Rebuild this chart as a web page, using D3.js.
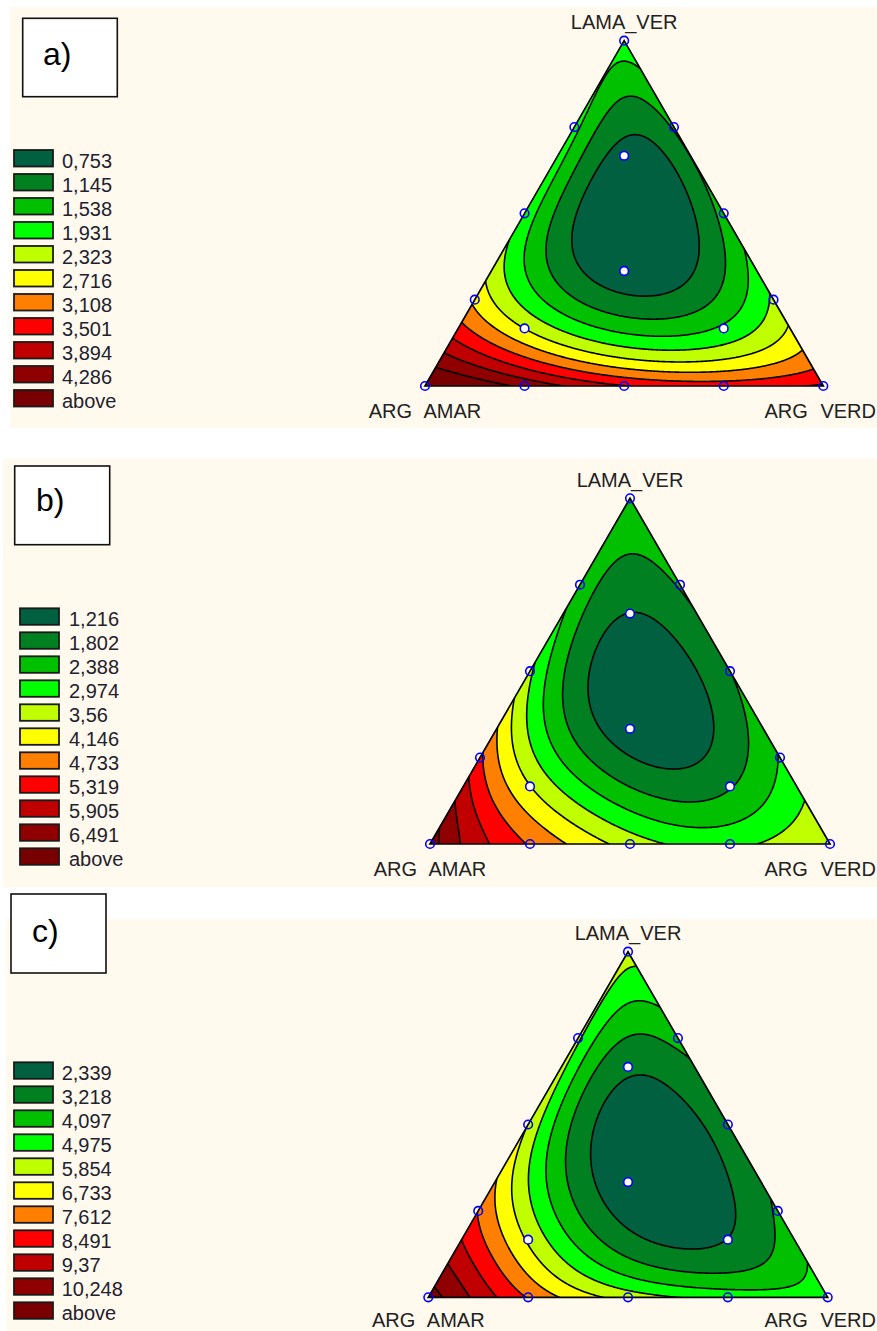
<!DOCTYPE html>
<html><head><meta charset="utf-8">
<script src="https://cdn.jsdelivr.net/npm/d3@7"></script>
<style>body{margin:0;background:#fff} svg{display:block}</style>
</head><body>
<svg id="chart" width="877" height="1331"></svg>
<script>
// ---------------- data ----------------
const bandColors = ['#00603f','#008020','#00c000','#00ff00','#c0ff00','#ffff00','#ff8000','#ff0000','#c00000','#900000','#780000'];
const levelsA = [0.753,1.145,1.538,1.931,2.323,2.716,3.108,3.501,3.894,4.286];
const levelsB = [1.216,1.802,2.388,2.974,3.56,4.146,4.733,5.319,5.905,6.491];
const levelsC = [2.339,3.218,4.097,4.975,5.854,6.733,7.612,8.491,9.37,10.248];
const labelsA = ['0,753','1,145','1,538','1,931','2,323','2,716','3,108','3,501','3,894','4,286','above'];
const labelsB = ['1,216','1,802','2,388','2,974','3,56','4,146','4,733','5,319','5,905','6,491','above'];
const labelsC = ['2,339','3,218','4,097','4,975','5,854','6,733','7,612','8,491','9,37','10,248','above'];
const componentNames = ['ARG AMAR','ARG VERD','LAMA_VER'];
// design mixtures [ARG AMAR, ARG VERD, LAMA_VER]
const designPoints = [[1,0,0],[0,1,0],[0,0,1],[.75,.25,0],[.5,.5,0],[.25,.75,0],[.75,0,.25],[.5,0,.5],[.25,0,.75],
  [0,.75,.25],[0,.5,.5],[0,.25,.75],[2/3,1/6,1/6],[1/6,2/3,1/6],[1/6,1/6,2/3],[1/3,1/3,1/3]];
const interiorFlags = [0,0,0,0,0,0,0,0,0,0,0,0,1,1,1,1];
// response read on a 1/8 simplex lattice: row k => LAMA_VER = k/8, entry j => ARG VERD = j/8
const responseA = [
  [4.75,4.5,4.25,3.85,3.45,3.35,3.35,3.4,3.55],
  [3.7,3.0,2.3,1.95,1.8,1.8,2.0,2.6],
  [2.5,1.85,1.25,0.75,0.85,1.35,2.0],
  [2.1,1.1,0.5,0.4,0.65,1.6],
  [1.85,0.72,0.4,0.55,1.3],
  [1.8,0.7,0.5,1.2],
  [1.65,0.85,1.15],
  [1.6,1.45],
  [1.75]
];
const responseB = [
  [6.8,5.4,4.75,3.9,3.2,2.97,2.85,3.1,3.45],
  [5.9,4.5,3.5,2.6,1.85,1.85,2.25,3.0],
  [4.73,3.0,1.7,1.1,1.0,1.5,2.4],
  [4.1,2.1,1.1,0.9,1.15,2.0],
  [3.0,1.45,0.9,0.95,1.8],
  [2.5,1.25,0.95,1.8],
  [2.25,1.5,1.85],
  [2.15,2.05],
  [2.2]
];
const responseC = [
  [10.7,9.0,7.6,6.4,5.4,5.0,4.6,4.55,4.6],
  [8.9,7.2,5.0,3.6,2.8,2.45,2.9,4.05],
  [7.6,5.5,3.0,2.0,1.8,2.1,3.3],
  [6.5,3.7,2.0,1.7,1.9,2.9],
  [5.75,2.8,1.9,1.8,2.9],
  [5.45,2.7,2.2,3.0],
  [5.3,3.3,3.4],
  [5.0,4.4],
  [5.3]
];

// ---------------- layout ----------------
const panels = [
  {tag:'a)', bg:[10,7,867,421], box:[22.7,18.3,94.6,78.4], tagPos:[43,65],
   legend:{x:14,y:150,lx:62}, tri:{x0:425,x1:823.3,yb:386,ya:40.7},
   levels:levelsA, labels:labelsA, rows:responseA},
  {tag:'b)', bg:[3,459,874,428], box:[14.7,466,95,78.7], tagPos:[36,511],
   legend:{x:20,y:608.3,lx:69}, tri:{x0:430,x1:830,yb:844,ya:498.3},
   levels:levelsB, labels:labelsB, rows:responseB},
  {tag:'c)', bg:[6,919,871,412], box:[11,894,95,79], tagPos:[32,942],
   legend:{x:14,y:1062.3,lx:61.7}, tri:{x0:428.3,x1:827.7,yb:1297.3,ya:951.7},
   levels:levelsC, labels:labelsC, rows:responseC}
];

// ---------------- mixture model (Scheffe-form polynomial, least squares) ----------------
const DEG = 5;
function monomials(a,v,l){
  const out=[];
  for(let i=DEG;i>=0;i--) for(let j=DEG-i;j>=0;j--){const k=DEG-i-j; out.push(Math.pow(a,i)*Math.pow(v,j)*Math.pow(l,k));}
  return out;
}
function fitModel(rows){
  const X=[],Y=[];
  rows.forEach((row,k)=>row.forEach((val,j)=>{const L=k/8,V=j/8,A=1-L-V; X.push(monomials(A,V,L)); Y.push(val);}));
  const p=X[0].length;
  const M=[];
  for(let i=0;i<p;i++) M.push(new Array(p+1).fill(0));
  for(let r=0;r<X.length;r++) for(let i=0;i<p;i++){ for(let j=0;j<p;j++) M[i][j]+=X[r][i]*X[r][j]; M[i][p]+=X[r][i]*Y[r]; }
  for(let i=0;i<p;i++) M[i][i]+=1e-7;
  for(let c=0;c<p;c++){
    let piv=c; for(let r=c+1;r<p;r++) if(Math.abs(M[r][c])>Math.abs(M[piv][c])) piv=r;
    [M[c],M[piv]]=[M[piv],M[c]];
    for(let r=0;r<p;r++){ if(r===c) continue; const f=M[r][c]/M[c][c]; for(let k=c;k<=p;k++) M[r][k]-=f*M[c][k]; }
  }
  return M.map((row,i)=>row[p]/row[i]);
}

// ---------------- draw ----------------
const svg = d3.select('#chart');
const defs = svg.append('defs');
const FONT = '"Liberation Sans", Arial, Helvetica, sans-serif';
const W = 877, H = 1331;

panels.forEach((P,pi)=>{
  const g = svg.append('g');
  g.append('rect').attr('x',P.bg[0]).attr('y',P.bg[1]).attr('width',P.bg[2]).attr('height',P.bg[3]).attr('fill','#fff9ee');
  g.append('rect').attr('x',P.box[0]).attr('y',P.box[1]).attr('width',P.box[2]).attr('height',P.box[3])
    .attr('fill','#fff').attr('stroke','#111').attr('stroke-width',1.6);
  g.append('text').attr('x',P.tagPos[0]).attr('y',P.tagPos[1]).text(P.tag)
    .style('font-family',FONT).style('font-size','32px').attr('fill','#000');

  // legend
  P.labels.forEach((lab,i)=>{
    const y = P.legend.y + i*24;
    g.append('rect').attr('x',P.legend.x).attr('y',y).attr('width',39).attr('height',16.5)
      .attr('fill',bandColors[i]).attr('stroke','#1a1a1a').attr('stroke-width',1.8);
    g.append('text').attr('x',P.legend.lx).attr('y',y+17.5).text(lab)
      .style('font-family',FONT).style('font-size','20px').attr('fill','#22222e');
  });

  // ternary scales
  const sx = d3.scaleLinear().domain([0,1]).range([P.tri.x0,P.tri.x1]);
  const sy = d3.scaleLinear().domain([0,1]).range([P.tri.yb,P.tri.ya]);
  const toXY = (a,v,l)=>[sx(v+l/2), sy(l)];
  const corners = [toXY(1,0,0),toXY(0,1,0),toXY(0,0,1)];
  const triD = 'M'+corners.map(c=>c.join(',')).join('L')+'Z';

  const coef = fitModel(P.rows);
  const f = (a,v,l)=>{const m=monomials(a,v,l); let s=0; for(let i=0;i<m.length;i++) s+=coef[i]*m[i]; return s;};

  const gx0 = Math.floor(sx(0))-2, gx1 = Math.ceil(sx(1))+2;
  const gy0 = Math.floor(sy(1))-2, gy1 = Math.ceil(sy(0))+2;
  const nx = gx1-gx0, ny = gy1-gy0;
  const values = new Float64Array(nx*ny);
  for(let j=0;j<ny;j++) for(let i=0;i<nx;i++){
    const l = sy.invert(gy0+j+0.5);
    const v = sx.invert(gx0+i+0.5) - l/2;
    values[i+j*nx] = f(1-v-l, v, l);
  }
  const contours = d3.contours().size([nx,ny]);
  const clipId = 'clip'+pi;
  defs.append('clipPath').attr('id',clipId).append('path').attr('d',triD);
  const cg = g.append('g').attr('clip-path',`url(#${clipId})`);
  cg.append('path').attr('d',triD).attr('fill',bandColors[0]);
  const path = d3.geoPath();
  const layers = P.levels.map(t=>contours.contour(values,t));
  const lg = cg.append('g').attr('transform',`translate(${gx0},${gy0})`);
  layers.forEach((c,i)=>lg.append('path').attr('d',path(c)).attr('fill',bandColors[i+1]));
  layers.forEach(c=>lg.append('path').attr('d',path(c)).attr('fill','none').attr('stroke','#000').attr('stroke-width',1.6));

  g.append('path').attr('d',triD).attr('fill','none').attr('stroke','#000').attr('stroke-width',1.7);

  // design points
  designPoints.forEach((d,i)=>{
    const [x,y]=toXY(d[0],d[1],d[2]);
    g.append('circle').attr('cx',x).attr('cy',y).attr('r',4.3)
      .attr('fill',interiorFlags[i]?'#fff':'none').attr('stroke','#0000ff').attr('stroke-width',1.6);
  });

  // component labels
  const lab = (t,x,y)=>{
    const el = g.append('text').attr('x',x).attr('y',Math.min(y,H-4)).attr('text-anchor','middle').text(t)
      .style('font-family',FONT).style('font-size','20px').style('word-spacing','7px').attr('fill','#222');
    const w = el.node().getComputedTextLength();
    if (x + w/2 > W-1) el.attr('x', W-1-w/2);
    return el;
  };
  lab(componentNames[2], corners[2][0], corners[2][1]-11.5);
  lab(componentNames[0], corners[0][0], corners[0][1]+32);
  lab(componentNames[1], corners[1][0], corners[1][1]+31.5);
});
</script>
</body></html>
